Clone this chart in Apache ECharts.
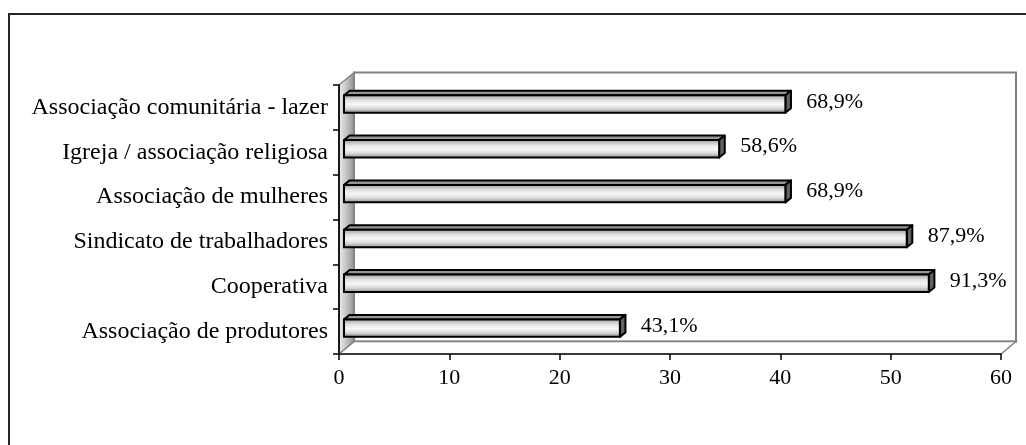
<!DOCTYPE html>
<html>
<head>
<meta charset="utf-8">
<script src="https://cdn.jsdelivr.net/npm/echarts@6.0.0/dist/echarts.min.js"></script>
<style>
  html, body { margin: 0; padding: 0; background: #ffffff; }
  #chart { width: 1026px; height: 445px; }
</style>
</head>
<body>
<div id="chart"></div>
<script>
// Entidades (de baixo para cima no eixo vertical)
const categories = [
  'Associação de produtores',
  'Cooperativa',
  'Sindicato de trabalhadores',
  'Associação de mulheres',
  'Igreja / associação religiosa',
  'Associação comunitária - lazer'
];
// Número de respostas por entidade (comprimento das barras)
const counts = [25, 53, 51, 40, 34, 40];
// Percentual exibido ao lado de cada barra
const percents = [43.1, 91.3, 87.9, 68.9, 58.6, 68.9];
// Escala do eixo horizontal
const xMin = 0, xMax = 60, xStep = 10;

const SERIF = '"Liberation Serif", "Times New Roman", serif';
const fmtPct = p => p.toFixed(1).replace('.', ',') + '%';

// Perspective offset of the back wall relative to the front plane
const DEPTH_X = 15, DEPTH_Y = -12.5;

function renderFrame(params, api) {
  const cs = params.coordSys;
  const L = cs.x, R = cs.x + cs.width, T = cs.y, B = cs.y + cs.height;
  const bL = L + DEPTH_X, bR = R + DEPTH_X, bT = T + DEPTH_Y, bB = B + DEPTH_Y;
  return {
    type: 'group',
    children: [
      // back wall
      { type: 'rect', shape: { x: bL, y: bT, width: bR - bL, height: bB - bT },
        style: { fill: '#ffffff', stroke: '#808080', lineWidth: 2 } },
      // floor
      { type: 'polygon', shape: { points: [[L, B], [bL, bB], [bR, bB], [R, B]] },
        style: { fill: '#ffffff', stroke: '#808080', lineWidth: 1.5 } },
      // left wall
      { type: 'polygon', shape: { points: [[L, T], [bL, bT], [bL, bB], [L, B]] },
        style: {
          fill: new echarts.graphic.LinearGradient(0, 0, 1, 0, [
            { offset: 0, color: '#eeeeee' },
            { offset: 0.5, color: '#c4c4c4' },
            { offset: 1, color: '#8e8e8e' }
          ]),
          stroke: '#808080', lineWidth: 1.2
        } }
    ]
  };
}

function renderBar(params, api) {
  const cat = api.value(0);
  const val = api.value(1);
  const p0 = api.coord([xMin, cat]);
  const p1 = api.coord([val, cat]);
  const bw = api.size([0, 1])[1];
  const c = p0[1];
  const shift = bw * 0.112;
  const x0 = p0[0] + shift, x1 = p1[0] + shift;
  const fTop = c - 0.272 * bw, fBot = c + 0.118 * bw;
  const dx = bw * 0.125, dy = -bw * 0.1;
  const stroke = '#000000', lw = 2;
  return {
    type: 'group',
    children: [
      // top face
      { type: 'polygon', shape: { points: [[x0, fTop], [x0 + dx, fTop + dy], [x1 + dx, fTop + dy], [x1, fTop]] },
        style: { fill: '#969696', stroke: stroke, lineWidth: lw, lineJoin: 'round' } },
      // end face
      { type: 'polygon', shape: { points: [[x1, fTop], [x1 + dx, fTop + dy], [x1 + dx, fBot + dy], [x1, fBot]] },
        style: { fill: '#626262', stroke: stroke, lineWidth: lw, lineJoin: 'round' } },
      // front face
      { type: 'rect', shape: { x: x0, y: fTop, width: x1 - x0, height: fBot - fTop },
        style: {
          fill: new echarts.graphic.LinearGradient(0, 0, 0, 1, [
            { offset: 0, color: '#808080' },
            { offset: 0.14, color: '#b8b8b8' },
            { offset: 0.32, color: '#e4e4e4' },
            { offset: 0.52, color: '#f7f7f7' },
            { offset: 0.72, color: '#dcdcdc' },
            { offset: 0.88, color: '#aaaaaa' },
            { offset: 1, color: '#858585' }
          ]),
          stroke: stroke, lineWidth: lw
        } },
      // percentage label
      { type: 'text',
        style: {
          text: fmtPct(percents[cat]),
          x: x1 + 21, y: (fTop + dy + fBot) / 2,
          align: 'left', verticalAlign: 'middle',
          font: '22px ' + SERIF, fill: '#000000'
        } }
    ]
  };
}

const chart = echarts.init(document.getElementById('chart'), null, { renderer: 'canvas' });

chart.setOption({
  backgroundColor: '#ffffff',
  animation: false,
  graphic: [{
    type: 'polyline',
    shape: { points: [[9, 445], [9, 14], [1026, 14]] },
    style: { stroke: '#262626', lineWidth: 2, fill: null },
    z: 10
  }],
  grid: { left: 339, right: 25, top: 85, bottom: 91, containLabel: false },
  xAxis: {
    type: 'value', min: xMin, max: xMax, interval: xStep, z: 3,
    axisLine: { show: true, lineStyle: { color: '#3a3a3a', width: 2 } },
    axisTick: { show: true, length: 6, lineStyle: { color: '#000000', width: 1.5 } },
    axisLabel: { color: '#000000', fontFamily: SERIF, fontSize: 22, margin: 13 },
    splitLine: { show: false }
  },
  yAxis: {
    type: 'category', data: categories, z: 3,
    axisLine: { show: true, lineStyle: { color: '#1a1a1a', width: 2 } },
    axisTick: { show: true, length: 6, alignWithLabel: false, lineStyle: { color: '#000000', width: 1.5 } },
    axisLabel: { color: '#000000', fontFamily: SERIF, fontSize: 24, margin: 11 },
    splitLine: { show: false }
  },
  series: [
    {
      type: 'custom', name: 'frame', z: 1, silent: true,
      renderItem: renderFrame,
      data: [[0, 0]],
      encode: { x: 1, y: 0 }
    },
    {
      type: 'custom', name: 'entidades', z: 4,
      renderItem: renderBar,
      data: counts.map((v, i) => [i, v]),
      encode: { x: 1, y: 0 }
    }
  ]
});
</script>
</body>
</html>
